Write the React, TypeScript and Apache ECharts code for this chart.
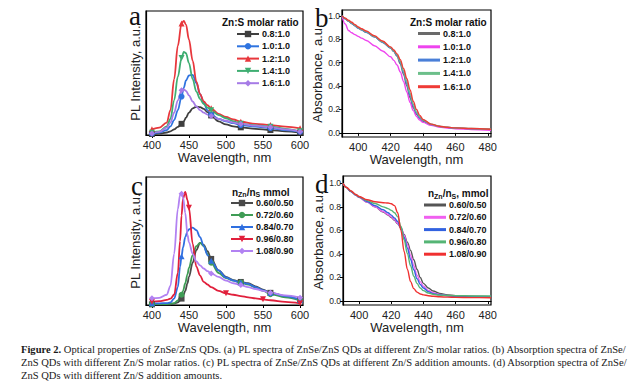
import React, { useEffect, useRef } from 'react';
import * as echarts from 'echarts';

// ---------- Panel a: PL spectra, Zn:S molar ratio ----------
const plWavelengthA = [400, 410, 420, 425, 430, 435, 440, 443, 446, 450, 455, 460, 465, 470, 475, 480, 490, 500, 510, 520, 540, 560, 580, 600];
const plA_08 = [0.008, 0.012, 0.02, 0.03, 0.045, 0.065, 0.09, 0.11, 0.14, 0.18, 0.215, 0.228, 0.225, 0.21, 0.185, 0.158, 0.11, 0.085, 0.07, 0.062, 0.05, 0.04, 0.03, 0.019];
const plA_10 = [0.013, 0.02, 0.04, 0.07, 0.12, 0.2, 0.31, 0.38, 0.44, 0.48, 0.485, 0.42, 0.33, 0.26, 0.2, 0.165, 0.13, 0.11, 0.095, 0.08, 0.068, 0.056, 0.04, 0.027];
const plA_12 = [0.046, 0.06, 0.1, 0.2, 0.45, 0.72, 0.9, 0.92, 0.89, 0.77, 0.6, 0.43, 0.33, 0.27, 0.24, 0.215, 0.17, 0.145, 0.125, 0.107, 0.09, 0.08, 0.067, 0.054];
const plA_14 = [0.019, 0.03, 0.07, 0.13, 0.28, 0.47, 0.62, 0.67, 0.66, 0.58, 0.45, 0.35, 0.29, 0.25, 0.22, 0.2, 0.16, 0.135, 0.11, 0.09, 0.078, 0.067, 0.05, 0.03];
const plA_16 = [0.013, 0.025, 0.06, 0.1, 0.18, 0.28, 0.36, 0.368, 0.355, 0.32, 0.27, 0.23, 0.2, 0.18, 0.165, 0.153, 0.13, 0.115, 0.1, 0.089, 0.075, 0.062, 0.045, 0.027];
const markersA = [400, 440, 480, 520, 560, 600];
const legendA = ['0.8:1.0', '1.0:1.0', '1.2:1.0', '1.4:1.0', '1.6:1.0'];

// ---------- Panel b: absorption, Zn:S molar ratio ----------
const absWavelengthB = [390, 392, 394, 396, 398, 400, 402, 405, 410, 415, 420, 422, 424, 426, 428, 430, 432, 434, 436, 438, 440, 445, 450, 455, 460, 470, 482];
const absB_08 = [1.0, 0.975, 0.955, 0.935, 0.915, 0.895, 0.88, 0.86, 0.82, 0.775, 0.725, 0.695, 0.655, 0.59, 0.5, 0.4, 0.3, 0.215, 0.16, 0.125, 0.1, 0.07, 0.055, 0.047, 0.042, 0.036, 0.03];
const absB_10 = [1.0, 0.93, 0.875, 0.855, 0.84, 0.825, 0.81, 0.79, 0.745, 0.7, 0.65, 0.62, 0.58, 0.52, 0.44, 0.35, 0.26, 0.19, 0.14, 0.11, 0.09, 0.065, 0.05, 0.042, 0.036, 0.029, 0.022];
const absB_12 = [1.0, 0.975, 0.955, 0.935, 0.915, 0.895, 0.88, 0.86, 0.82, 0.775, 0.725, 0.697, 0.66, 0.6, 0.515, 0.42, 0.32, 0.23, 0.17, 0.13, 0.105, 0.072, 0.056, 0.047, 0.042, 0.036, 0.03];
const absB_14 = [1.0, 0.978, 0.958, 0.94, 0.92, 0.9, 0.885, 0.865, 0.825, 0.78, 0.73, 0.702, 0.667, 0.61, 0.53, 0.44, 0.34, 0.245, 0.18, 0.137, 0.11, 0.074, 0.057, 0.048, 0.043, 0.037, 0.031];
const absB_16 = [1.0, 0.98, 0.962, 0.945, 0.925, 0.905, 0.89, 0.87, 0.83, 0.785, 0.735, 0.708, 0.675, 0.625, 0.55, 0.465, 0.37, 0.27, 0.2, 0.15, 0.115, 0.075, 0.057, 0.048, 0.043, 0.037, 0.031];

// ---------- Panel c: PL spectra, nZn/nS mmol ----------
const plWavelengthC = [400, 410, 420, 425, 430, 435, 438, 440, 442, 445, 448, 450, 455, 460, 465, 470, 475, 480, 490, 500, 510, 520, 530, 540, 550, 560, 580, 600];
const plC_060 = [0.005, 0.005, 0.005, 0.006, 0.01, 0.02, 0.035, 0.05, 0.07, 0.11, 0.17, 0.22, 0.33, 0.43, 0.486, 0.47, 0.42, 0.36, 0.27, 0.22, 0.195, 0.18, 0.17, 0.145, 0.12, 0.095, 0.07, 0.04];
const plC_072 = [0.008, 0.008, 0.008, 0.01, 0.015, 0.035, 0.06, 0.08, 0.11, 0.17, 0.24, 0.29, 0.39, 0.46, 0.485, 0.46, 0.4, 0.33, 0.25, 0.21, 0.19, 0.175, 0.16, 0.135, 0.11, 0.085, 0.06, 0.035];
const plC_084 = [0.013, 0.013, 0.015, 0.02, 0.05, 0.14, 0.3, 0.38, 0.45, 0.53, 0.575, 0.59, 0.605, 0.585, 0.53, 0.46, 0.39, 0.345, 0.27, 0.215, 0.19, 0.175, 0.165, 0.14, 0.115, 0.095, 0.07, 0.04];
const plC_096 = [0.026, 0.03, 0.04, 0.05, 0.08, 0.25, 0.5, 0.7, 0.83, 0.883, 0.82, 0.76, 0.48, 0.3, 0.23, 0.18, 0.16, 0.14, 0.11, 0.091, 0.08, 0.07, 0.06, 0.052, 0.044, 0.037, 0.025, 0.013];
const plC_108 = [0.052, 0.055, 0.08, 0.15, 0.4, 0.75, 0.86, 0.87, 0.84, 0.72, 0.55, 0.49, 0.4, 0.34, 0.31, 0.285, 0.265, 0.247, 0.22, 0.19, 0.17, 0.156, 0.14, 0.125, 0.11, 0.096, 0.075, 0.057];
const markersC = [400, 440, 480, 520, 560, 600];
const markersCRed = [400, 450, 500, 550, 600];
const legendC = ['0.60/0.50', '0.72/0.60', '0.84/0.70', '0.96/0.80', '1.08/0.90'];

// ---------- Panel d: absorption, nZn/nS mmol ----------
const absWavelengthD = [390, 392, 395, 398, 400, 405, 410, 415, 418, 420, 422, 424, 426, 428, 430, 432, 434, 436, 438, 440, 443, 446, 450, 455, 460, 470, 482];
const absD_060 = [1.0, 0.965, 0.93, 0.9, 0.88, 0.84, 0.8, 0.755, 0.73, 0.71, 0.685, 0.655, 0.62, 0.565, 0.5, 0.43, 0.35, 0.27, 0.2, 0.15, 0.11, 0.085, 0.065, 0.052, 0.045, 0.04, 0.037];
const absD_072 = [1.0, 0.965, 0.93, 0.9, 0.88, 0.84, 0.8, 0.76, 0.735, 0.715, 0.69, 0.66, 0.625, 0.56, 0.48, 0.39, 0.3, 0.22, 0.165, 0.125, 0.09, 0.07, 0.055, 0.046, 0.04, 0.036, 0.033];
const absD_084 = [1.0, 0.965, 0.93, 0.9, 0.883, 0.845, 0.81, 0.775, 0.75, 0.73, 0.705, 0.675, 0.62, 0.54, 0.45, 0.355, 0.265, 0.19, 0.14, 0.11, 0.08, 0.063, 0.052, 0.045, 0.04, 0.036, 0.034];
const absD_096 = [1.0, 0.965, 0.932, 0.903, 0.885, 0.853, 0.828, 0.8, 0.785, 0.77, 0.75, 0.715, 0.635, 0.52, 0.405, 0.3, 0.21, 0.15, 0.11, 0.088, 0.068, 0.057, 0.05, 0.047, 0.045, 0.043, 0.042];
const absD_108 = [1.0, 0.967, 0.935, 0.905, 0.888, 0.86, 0.843, 0.835, 0.832, 0.826, 0.81, 0.75, 0.6, 0.42, 0.27, 0.165, 0.105, 0.075, 0.06, 0.052, 0.045, 0.04, 0.036, 0.033, 0.031, 0.029, 0.028];

const plTicks = [400, 450, 500, 550, 600];
const absTicks = [400, 420, 440, 460, 480];
const absYTicks = [0, 0.2, 0.4, 0.6, 0.8, 1.0];

const captionLines = [
  '{b|Figure 2.} Optical properties of ZnSe/ZnS QDs. (a) PL spectra of ZnSe/ZnS QDs at different Zn/S molar ratios. (b) Absorption spectra of ZnSe/',
  'ZnS QDs with different Zn/S molar ratios. (c) PL spectra of ZnSe/ZnS QDs at different Zn/S addition amounts. (d) Absorption spectra of ZnSe/',
  'ZnS QDs with different Zn/S addition amounts.',
];

const SANS = 'Liberation Sans, Arial, sans-serif';
const SERIF = 'Liberation Serif, Times New Roman, serif';

const pairs = (xs: number[], ys: number[]) => xs.map((x, i) => [x, ys[i]]);

function plSeries(prefix: string, name: string, idx: number, xs: number[], ys: number[], color: string, symbol: string, rotate: number, markers: number[]) {
  const set = new Set(markers);
  return {
    type: 'line',
    name: prefix + name,
    xAxisIndex: idx,
    yAxisIndex: idx,
    data: pairs(xs, ys),
    smooth: 0.35,
    smoothMonotone: 'x',
    showSymbol: true,
    showAllSymbol: true,
    symbol,
    symbolRotate: rotate,
    symbolSize: (v: number[]) => (set.has(v[0]) ? 6 : 0),
    lineStyle: { color, width: 1.8 },
    itemStyle: { color },
    z: 3,
  };
}

function absSeries(prefix: string, name: string, idx: number, xs: number[], ys: number[], color: string) {
  return {
    type: 'line',
    name: prefix + name,
    xAxisIndex: idx,
    yAxisIndex: idx,
    data: pairs(xs, ys),
    smooth: 0.35,
    smoothMonotone: 'x',
    showSymbol: false,
    symbol: 'none',
    lineStyle: { color, width: 1.4 },
    itemStyle: { color },
    z: 3,
  };
}

function xAxis(idx: number, min: number, max: number, ticks: number[], gap: number) {
  return {
    type: 'value',
    gridIndex: idx,
    min,
    max,
    axisLine: { show: true, lineStyle: { color: '#000', width: 1.2 } },
    axisTick: { show: true, inside: false, length: 3, customValues: ticks, lineStyle: { color: '#000' } },
    axisLabel: { customValues: ticks, fontSize: 11, color: '#222', margin: 4, fontFamily: SANS },
    splitLine: { show: false },
    name: 'Wavelength, nm',
    nameLocation: 'middle',
    nameGap: gap,
    nameTextStyle: { fontSize: 13, color: '#222', fontFamily: SANS },
  };
}

function yAxisPL(idx: number) {
  return {
    type: 'value',
    gridIndex: idx,
    min: 0,
    max: 1,
    axisLine: { show: true, lineStyle: { color: '#000', width: 1.2 } },
    axisTick: { show: false },
    axisLabel: { show: false },
    splitLine: { show: false },
    name: 'PL Intensity, a.u.',
    nameLocation: 'middle',
    nameGap: 4,
    nameTextStyle: { fontSize: 13, color: '#222', fontFamily: SANS },
  };
}

function yAxisAbs(idx: number, min: number, max: number) {
  return {
    type: 'value',
    gridIndex: idx,
    min,
    max,
    axisLine: { show: true, lineStyle: { color: '#000', width: 1.2 } },
    axisTick: { show: true, inside: false, length: 3, customValues: absYTicks, lineStyle: { color: '#000' } },
    axisLabel: { customValues: absYTicks, fontSize: 8.5, color: '#222', margin: 2, fontFamily: SANS, formatter: (v: number) => v.toFixed(1) },
    splitLine: { show: false },
    name: 'Absorbance, a.u.',
    nameLocation: 'middle',
    nameGap: 15,
    nameTextStyle: { fontSize: 13, color: '#222', fontFamily: SANS },
  };
}

const stripPrefix = (name: string) => name.slice(2);

function legendFor(prefix: string, names: string[], left: number, top: number, gap: number, lineIcon: boolean) {
  const base: any = {
    data: names.map((n) => prefix + n),
    orient: 'vertical',
    left,
    top,
    itemWidth: 22,
    itemHeight: lineIcon ? 8 : 3,
    itemGap: gap,
    selectedMode: false,
    padding: 0,
    formatter: stripPrefix,
    textStyle: { fontSize: 9, fontWeight: 'bold', color: '#111', fontFamily: SANS, padding: [0, 0, 0, -2] },
  };
  if (!lineIcon) base.icon = 'rect';
  return base;
}

export default function App() {
  const ref = useRef<HTMLDivElement>(null);
  useEffect(() => {
    if (!ref.current) return;
    const chart = echarts.init(ref.current, null, { renderer: 'svg' });

    const gridStyle = { show: true, borderColor: '#000', borderWidth: 1.2, backgroundColor: 'transparent', containLabel: false };

    const option: any = {
      animation: false,
      backgroundColor: '#fff',
      textStyle: { fontFamily: SANS },
      grid: [
        { ...gridStyle, left: 146, top: 11, width: 157, height: 124 },
        { ...gridStyle, left: 342, top: 10, width: 149, height: 127 },
        { ...gridStyle, left: 146, top: 177, width: 157, height: 128 },
        { ...gridStyle, left: 343, top: 176, width: 148, height: 129 },
      ],
      xAxis: [
        xAxis(0, 392, 604, plTicks, 13),
        xAxis(1, 390, 482, absTicks, 11),
        xAxis(2, 392, 604, plTicks, 13),
        xAxis(3, 390, 482, absTicks, 13),
      ],
      yAxis: [
        yAxisPL(0),
        yAxisAbs(1, -0.035, 1.05),
        yAxisPL(2),
        yAxisAbs(3, -0.034, 1.062),
      ],
      legend: [
        legendFor('a:', legendA, 236, 29.5, 3.3, true),
        legendFor('b:', legendA, 418, 29, 4.3, false),
        legendFor('c:', legendC, 230, 198.5, 3.0, true),
        legendFor('d:', legendC, 424, 200.5, 3.3, false),
      ],
      series: [
        plSeries('a:', legendA[0], 0, plWavelengthA, plA_08, '#3f3f3f', 'rect', 0, markersA),
        plSeries('a:', legendA[1], 0, plWavelengthA, plA_10, '#2f74e0', 'circle', 0, markersA),
        plSeries('a:', legendA[2], 0, plWavelengthA, plA_12, '#e8373c', 'triangle', 0, markersA),
        plSeries('a:', legendA[3], 0, plWavelengthA, plA_14, '#3fae72', 'triangle', 180, markersA),
        plSeries('a:', legendA[4], 0, plWavelengthA, plA_16, '#a67be6', 'diamond', 0, markersA),

        absSeries('b:', legendA[0], 1, absWavelengthB, absB_08, '#6a6a6a'),
        absSeries('b:', legendA[1], 1, absWavelengthB, absB_10, '#ee44ee'),
        absSeries('b:', legendA[2], 1, absWavelengthB, absB_12, '#4a7fd8'),
        absSeries('b:', legendA[3], 1, absWavelengthB, absB_14, '#6cbf8a'),
        absSeries('b:', legendA[4], 1, absWavelengthB, absB_16, '#ef3b36'),

        plSeries('c:', legendC[0], 2, plWavelengthC, plC_060, '#4a4a4a', 'rect', 0, markersC),
        plSeries('c:', legendC[1], 2, plWavelengthC, plC_072, '#3f9c55', 'circle', 0, markersC),
        plSeries('c:', legendC[2], 2, plWavelengthC, plC_084, '#2f6fe0', 'triangle', 0, markersC),
        plSeries('c:', legendC[3], 2, plWavelengthC, plC_096, '#e1203c', 'triangle', 180, markersCRed),
        plSeries('c:', legendC[4], 2, plWavelengthC, plC_108, '#b282f2', 'diamond', 0, markersC),

        absSeries('d:', legendC[0], 3, absWavelengthD, absD_060, '#555555'),
        absSeries('d:', legendC[1], 3, absWavelengthD, absD_072, '#f060f0'),
        absSeries('d:', legendC[2], 3, absWavelengthD, absD_084, '#3262e0'),
        absSeries('d:', legendC[3], 3, absWavelengthD, absD_096, '#55b575'),
        absSeries('d:', legendC[4], 3, absWavelengthD, absD_108, '#f03030'),
      ],
      graphic: [
        { type: 'text', left: 129, top: 2, style: { text: 'a', fontSize: 27, fontFamily: SERIF, fill: '#111' } },
        { type: 'text', left: 315, top: 4, style: { text: 'b', fontSize: 27, fontFamily: SERIF, fill: '#111' } },
        { type: 'text', left: 131, top: 172, style: { text: 'c', fontSize: 27, fontFamily: SERIF, fill: '#111' } },
        { type: 'text', left: 315, top: 170, style: { text: 'd', fontSize: 27, fontFamily: SERIF, fill: '#111' } },

        { type: 'text', left: 222, top: 17.5, style: { text: 'Zn:S molar ratio', fontSize: 10, fontWeight: 'bold', fontFamily: SANS, fill: '#111' } },
        { type: 'text', left: 410, top: 17, style: { text: 'Zn:S molar ratio', fontSize: 10, fontWeight: 'bold', fontFamily: SANS, fill: '#111' } },
        {
          type: 'text', left: 232, top: 187,
          style: {
            text: 'n{s|Zn}/n{s|S} mmol', fontSize: 10, fontWeight: 'bold', fontFamily: SANS, fill: '#111',
            rich: { s: { fontSize: 7, fontWeight: 'bold', fontFamily: SANS, fill: '#111', padding: [5, 0, 0, 0] } },
          },
        },
        {
          type: 'text', left: 428, top: 188.5,
          style: {
            text: 'n{s|Zn}/n{s|S}, mmol', fontSize: 10, fontWeight: 'bold', fontFamily: SANS, fill: '#111',
            rich: { s: { fontSize: 7, fontWeight: 'bold', fontFamily: SANS, fill: '#111', padding: [5, 0, 0, 0] } },
          },
        },

        ...captionLines.map((line, i) => ({
          type: 'text',
          left: 21,
          top: 343.5 + i * 13,
          style: {
            text: line,
            fontSize: 10.55,
            fontFamily: SERIF,
            fill: '#1a1a1a',
            rich: { b: { fontSize: 10.55, fontWeight: 'bold', fontFamily: SERIF, fill: '#1a1a1a' } },
          },
        })),
      ],
    };

    chart.setOption(option);
    return () => chart.dispose();
  }, []);

  return <div ref={ref} style={{ position: 'absolute', left: 0, top: 0, width: 630, height: 384 }} />;
}
